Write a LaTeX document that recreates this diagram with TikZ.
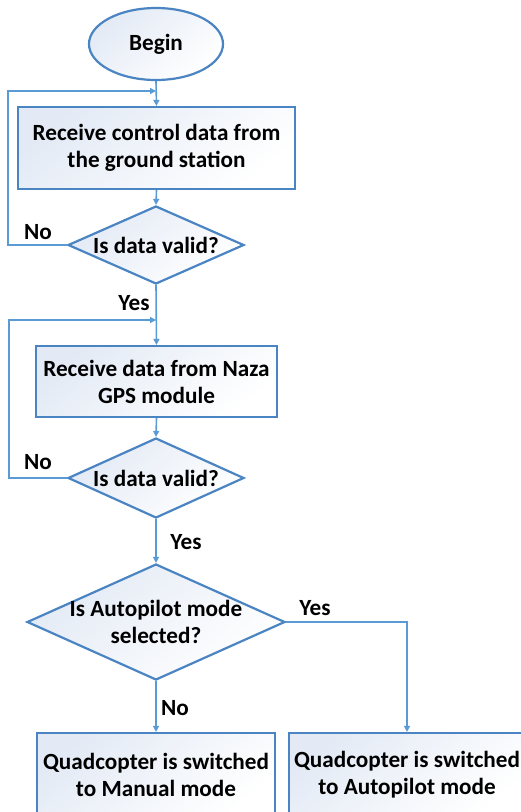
\documentclass[tikz,border=0pt]{standalone}
\usepackage{fontspec}
\setmainfont{Carlito}
\usetikzlibrary{shapes.geometric,arrows.meta}
\definecolor{lineblue}{HTML}{5B9BD5}
\definecolor{borderblue}{HTML}{4A84C2}
\definecolor{fillblue}{HTML}{E3EAF5}
\tikzset{
  every node/.style={font=\fontsize{23.2}{27}\selectfont\bfseries},
  shapefill/.style={draw=borderblue, line width=2.2pt, top color=fillblue, bottom color=white, shading angle=40},
  procbox/.style={shapefill, rectangle, align=center, inner sep=0pt},
  decision/.style={shapefill, diamond, align=center, inner sep=-4pt},
  conn/.style={draw=lineblue, line width=1.6pt, -{Triangle[length=6pt,width=6pt]}},
  lbl/.style={inner sep=0pt}
}
\begin{document}
\begin{tikzpicture}[x=1pt,y=-1pt]
\useasboundingbox (0,0) rectangle (521,812);
\clip (0,0) rectangle (521,812);
\node[shapefill, ellipse, minimum width=134pt, minimum height=72pt, inner sep=0pt] (begin) at (156,44) {Begin};
\node[procbox, minimum width=277pt, minimum height=82pt] (box1) at (156.5,148) {Receive control data from\\the ground station};
\node[decision, shape aspect=2.26, minimum width=176pt, minimum height=78pt] (d1) at (156,245) {Is data valid?};
\node[procbox, minimum width=241pt, minimum height=71pt] (box2) at (156.5,381.5) {Receive data from Naza\\GPS module};
\node[decision, shape aspect=2.2, minimum width=176pt, minimum height=80pt] (d2) at (156,478) {Is data valid?};
\node[decision, shape aspect=2.22, inner sep=-7pt, minimum width=258pt, minimum height=116pt] (d3) at (156,622) {Is Autopilot mode\\selected?};
\node[procbox, minimum width=238pt, minimum height=84pt] (box3) at (156,775) {Quadcopter is switched\\to Manual mode};
\node[procbox, minimum width=236pt, minimum height=84pt] (box4) at (407,775) {Quadcopter is switched\\to Autopilot mode};

\coordinate (j1) at (156,91);
\coordinate (l1) at (8,91);
\coordinate (j2) at (156,320);
\coordinate (l2) at (9,320);

\draw[conn] (begin.south) -- (box1.north);
\draw[conn] (d1.west) -| (l1) -- (j1);
\draw[conn] (box1.south) -- (d1.north);
\draw[conn] (d1.south) -- (box2.north);
\draw[conn] (d2.west) -| (l2) -- (j2);
\draw[conn] (box2.south) -- (d2.north);
\draw[conn] (d2.south) -- (d3.north);
\draw[conn] (d3.east) -| (box4.north);
\draw[conn] (d3.south) -- (box3.north);

\node[lbl] (no1) at (38,232) {No};
\node[lbl] (yes1) at (134,303) {Yes};
\node[lbl] (no2) at (38,462) {No};
\node[lbl] (yes2) at (186,542) {Yes};
\node[lbl] (yes3) at (315,608) {Yes};
\node[lbl] (no3) at (175,708) {No};
\end{tikzpicture}
\end{document}
